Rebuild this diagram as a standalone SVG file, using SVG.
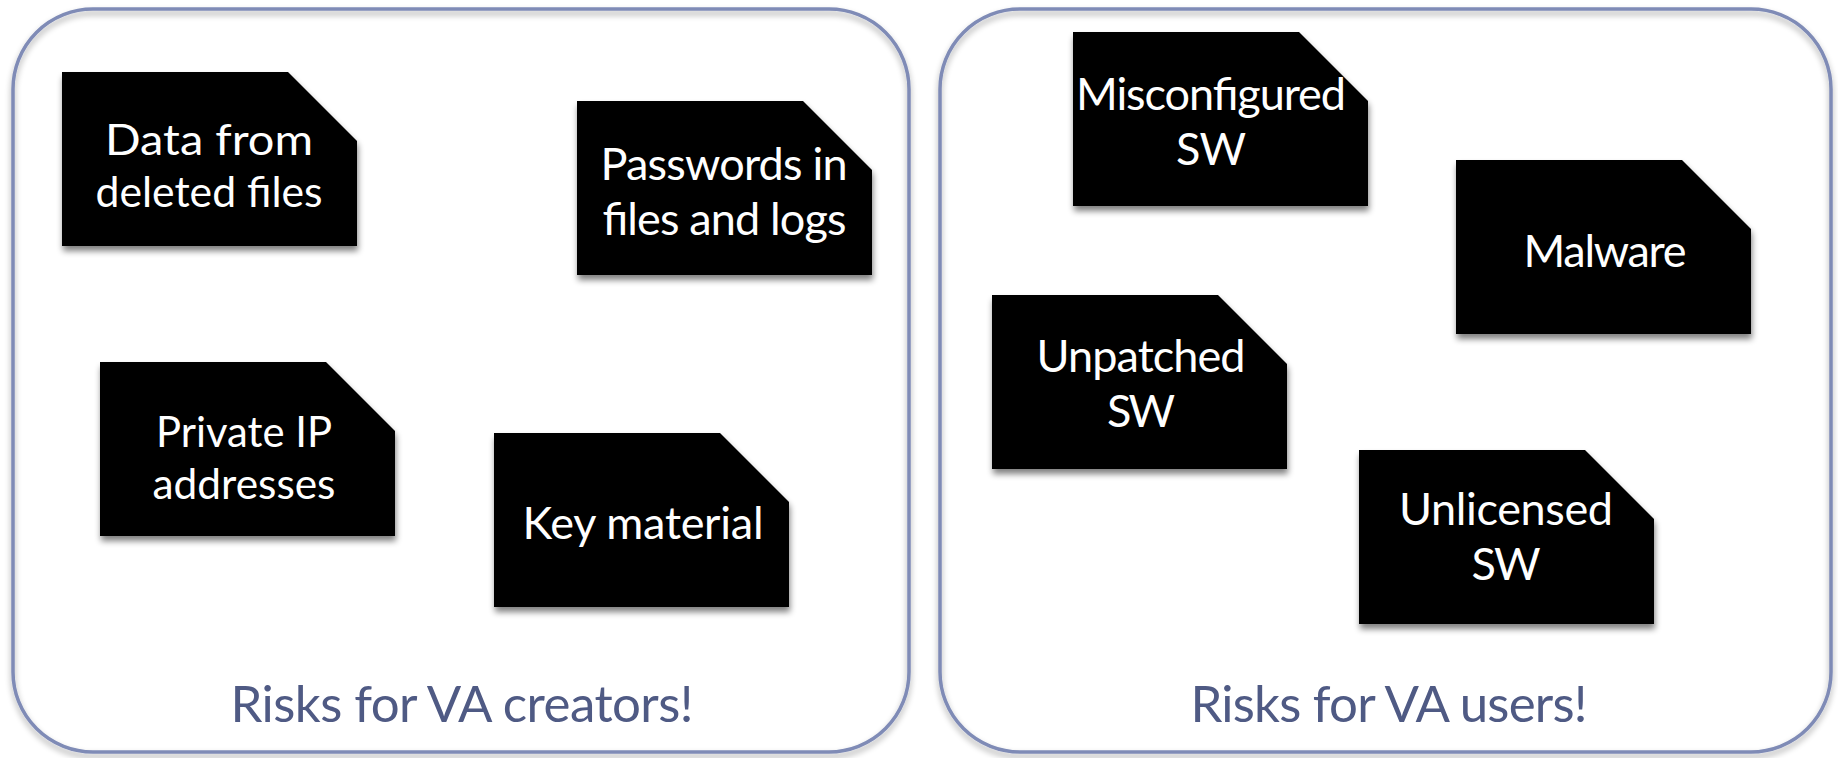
<svg xmlns="http://www.w3.org/2000/svg" xmlns:xlink="http://www.w3.org/1999/xlink" width="1838" height="758" viewBox="0 0 1838 758">
  <style>
    .panel { fill: none; stroke: #7f8bb6; stroke-width: 3.5; }
    .panel-bg { fill: #ffffff; }
    .card { fill: #000000; }
    .label { font-family: Lato, "Open Sans", "Liberation Sans", sans-serif; font-size: 45px; fill: #ffffff; text-anchor: middle; }
    .label.tight { font-size: 42px; }
    .caption { font-family: Lato, "Open Sans", "Liberation Sans", sans-serif; font-size: 51px; fill: #4f5a84; text-anchor: middle; }
  </style>
  <defs>
    <!-- dog-eared note card, 295 x 174 with a 69px clipped corner -->
    <path id="card-shape" d="M0,0 H226 L295,69 V174 H0 Z"/>
    <filter id="card-shadow" x="-10%" y="-10%" width="125%" height="130%">
      <feGaussianBlur in="SourceAlpha" stdDeviation="3"/>
      <feOffset dx="1" dy="5" result="blur"/>
      <feComponentTransfer><feFuncA type="linear" slope="0.5"/></feComponentTransfer>
      <feMerge><feMergeNode/><feMergeNode in="SourceGraphic"/></feMerge>
    </filter>
    <filter id="panel-shadow" x="-5%" y="-5%" width="110%" height="112%">
      <feGaussianBlur in="SourceAlpha" stdDeviation="3"/>
      <feOffset dx="0" dy="4" result="blur"/>
      <feComponentTransfer><feFuncA type="linear" slope="0.35"/></feComponentTransfer>
      <feMerge><feMergeNode/><feMergeNode in="SourceGraphic"/></feMerge>
    </filter>
  </defs>

  <rect width="1838" height="758" fill="#ffffff"/>

  <!-- left container: risks for creators -->
  <g id="panel-creators">
    <rect class="panel-bg" x="13" y="9" width="896" height="743" rx="80" ry="80"/>
    <rect class="panel" x="13" y="9" width="896" height="743" rx="80" ry="80" filter="url(#panel-shadow)"/>
    <text class="caption" x="462" y="722" textLength="463">Risks for VA creators!</text>
  </g>

  <!-- right container: risks for users -->
  <g id="panel-users">
    <rect class="panel-bg" x="940" y="9" width="891" height="743" rx="80" ry="80"/>
    <rect class="panel" x="940" y="9" width="891" height="743" rx="80" ry="80" filter="url(#panel-shadow)"/>
    <text class="caption" x="1389" y="722" textLength="397">Risks for VA users!</text>
  </g>

  <g id="node-deleted-files">
    <use xlink:href="#card-shape" class="card" x="62" y="72" filter="url(#card-shadow)"/>
    <text class="label tight" x="209" y="155" textLength="208" lengthAdjust="spacingAndGlyphs">Data from</text>
    <text class="label tight" x="209" y="207" textLength="227" lengthAdjust="spacingAndGlyphs">deleted files</text>
  </g>

  <g id="node-passwords">
    <use xlink:href="#card-shape" class="card" x="577" y="101" filter="url(#card-shadow)"/>
    <text class="label" x="724" y="180" textLength="247">Passwords in</text>
    <text class="label" x="724" y="235" textLength="244">files and logs</text>
  </g>

  <g id="node-private-ip">
    <use xlink:href="#card-shape" class="card" x="100" y="362" filter="url(#card-shadow)"/>
    <text class="label tight" x="244" y="447" textLength="176" lengthAdjust="spacingAndGlyphs">Private IP</text>
    <text class="label tight" x="244" y="499" textLength="183" lengthAdjust="spacingAndGlyphs">addresses</text>
  </g>

  <g id="node-key-material">
    <use xlink:href="#card-shape" class="card" x="494" y="433" filter="url(#card-shadow)"/>
    <text class="label" x="643" y="539" textLength="241">Key material</text>
  </g>

  <g id="node-misconfigured">
    <use xlink:href="#card-shape" class="card" x="1073" y="32" filter="url(#card-shadow)"/>
    <text class="label" x="1211" y="110" textLength="270">Misconfigured</text>
    <text class="label" x="1211" y="165" textLength="70">SW</text>
  </g>

  <g id="node-malware">
    <use xlink:href="#card-shape" class="card" x="1456" y="160" filter="url(#card-shadow)"/>
    <text class="label" x="1605" y="267" textLength="163">Malware</text>
  </g>

  <g id="node-unpatched">
    <use xlink:href="#card-shape" class="card" x="992" y="295" filter="url(#card-shadow)"/>
    <text class="label" x="1141" y="372" textLength="209">Unpatched</text>
    <text class="label" x="1141" y="427" textLength="68">SW</text>
  </g>

  <g id="node-unlicensed">
    <use xlink:href="#card-shape" class="card" x="1359" y="450" filter="url(#card-shadow)"/>
    <text class="label" x="1506" y="525" textLength="214">Unlicensed</text>
    <text class="label" x="1506" y="580" textLength="69">SW</text>
  </g>

  <g id="connectors"/>
</svg>
